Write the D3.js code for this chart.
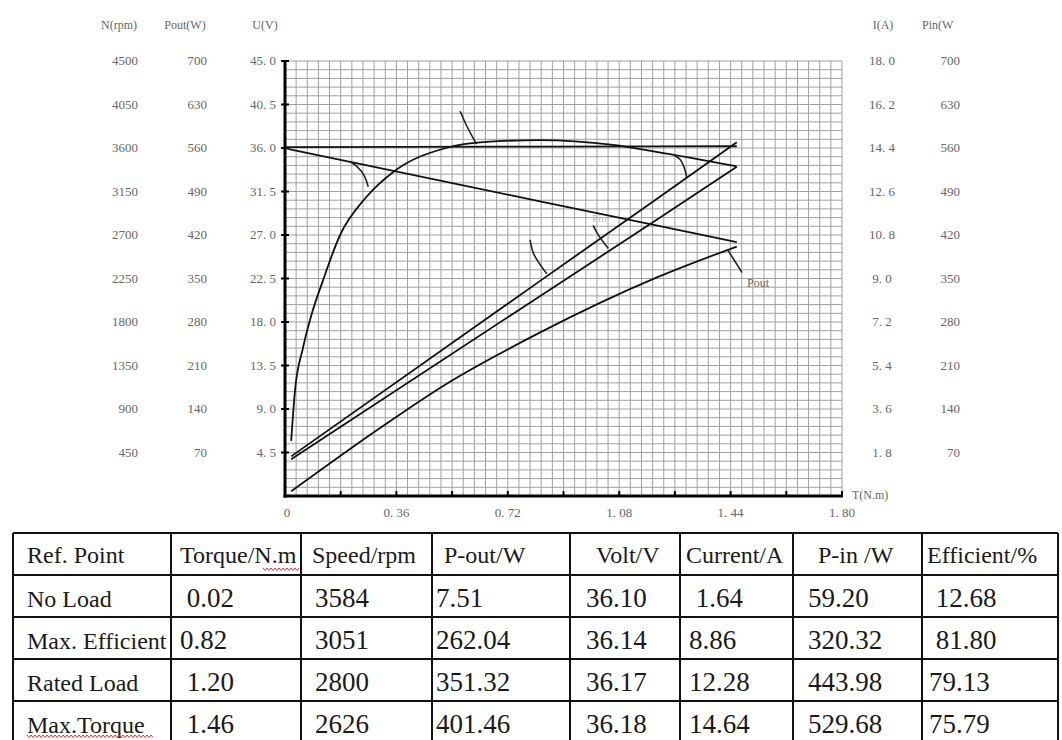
<!DOCTYPE html>
<html><head><meta charset="utf-8">
<script src="https://cdn.jsdelivr.net/npm/d3@7"></script>
<style>
html,body{margin:0;padding:0;background:#fff;}
svg{display:block;}
text{white-space:pre;}
</style></head>
<body>
<svg id="c" width="1062" height="740"></svg>
<script>
// ---------- data ----------
const uTicks = [4.5, 9, 13.5, 18, 22.5, 27, 31.5, 36, 40.5, 45];
const nLabels = ["450","900","1350","1800","2250","2700","3150","3600","4050","4500"];
const poutLabels = ["70","140","210","280","350","420","490","560","630","700"];
const uLabels = ["4. 5","9. 0","13. 5","18. 0","22. 5","27. 0","31. 5","36. 0","40. 5","45. 0"];
const iLabels = ["1. 8","3. 6","5. 4","7. 2","9. 0","10. 8","12. 6","14. 4","16. 2","18. 0"];
const pinLabels = ["70","140","210","280","350","420","490","560","630","700"];
const xTickVals = [0,0.18,0.36,0.54,0.72,0.9,1.08,1.26,1.44,1.62,1.8];
const xLabelVals = [0,0.36,0.72,1.08,1.44,1.8];
const xLabels = ["0","0. 36","0. 72","1. 08","1. 44","1. 80"];

// curves (torque N.m -> value)
const speedT = [0, 0.02, 0.82, 1.20, 1.46];
const speedN = [3600, 3584, 3051, 2800, 2626];
const voltT = [0, 0.02, 0.82, 1.20, 1.46];
const voltU = [36.1, 36.10, 36.14, 36.17, 36.18];
const currT = [0.02, 0.82, 1.20, 1.46];
const currI = [1.64, 8.86, 12.28, 14.64];
const pinT = [0.02, 0.82, 1.20, 1.46];
const pinW = [59.20, 320.32, 443.98, 529.68];
const poutT = [0.02, 0.30, 0.52, 0.82, 1.20, 1.46];
const poutW = [7.51, 107, 180, 262.04, 351.32, 401.46];
const effT = [0.02, 0.032, 0.058, 0.087, 0.12, 0.178, 0.26, 0.35, 0.52, 0.65, 0.82, 1.06, 1.20, 1.46];
const effP = [12.68, 24, 34, 42, 49, 60, 68.5, 74.5, 80, 81.4, 81.8, 80.7, 79.13, 75.79];

// leader marks (torque, value on U scale)
const leaders = [
  [[0.566,39.8],[0.587,38.3],[0.619,36.4]],
  [[0.21,34.6],[0.232,34.1],[0.269,32.0]],
  [[1.255,35.3],[1.277,34.8],[1.298,33.0]],
  [[0.996,28.0],[1.007,27.3],[1.045,25.6]],
  [[0.792,26.5],[0.803,25.1],[0.846,23.0]],
  [[1.432,25.4],[1.477,23.1]]
];

// table
const headers = ["Ref. Point","Torque/N.m","Speed/rpm","P-out/W","Volt/V","Current/A","P-in /W","Efficient/%"];
const refPoints = ["No Load","Max. Efficient","Rated Load","Max.Torque"];
const torqueCol = [" 0.02","0.82"," 1.20"," 1.46"];
const speedCol = ["3584","3051","2800","2626"];
const poutCol = ["7.51","262.04","351.32","401.46"];
const voltCol = ["36.10","36.14","36.17","36.18"];
const currentCol = [" 1.64","8.86","12.28","14.64"];
const pinCol = ["59.20","320.32","443.98","529.68"];
const effCol = [" 12.68"," 81.80","79.13","75.79"];

// ---------- drawing ----------
const svg = d3.select("#c");
const x = d3.scaleLinear([0,1.8],[285,842]);
const yU = d3.scaleLinear([0,45],[496,61]);
const yN = d3.scaleLinear([0,4500],[496,61]);
const yP = d3.scaleLinear([0,700],[496,61]);
const yI = d3.scaleLinear([0,18],[496,61]);
const yE = d3.scaleLinear([0,100],[496,61]);

// grid 50 x 50
const g = svg.append("g");
const gx = d3.range(0,51).map(i=>i*1.8/50);
const gy = d3.range(0,51).map(i=>i*45/50);
g.selectAll("line.v").data(gx).join("line")
  .attr("x1",d=>x(d)).attr("x2",d=>x(d)).attr("y1",yU(45)).attr("y2",yU(0))
  .attr("stroke","#a0a0a0").attr("stroke-width",1);
g.selectAll("line.h").data(gy).join("line")
  .attr("x1",x(0)).attr("x2",x(1.8)).attr("y1",d=>yU(d)).attr("y2",d=>yU(d))
  .attr("stroke","#a0a0a0").attr("stroke-width",1);

// axes
const ax = svg.append("g");
ax.append("line").attr("x1",x(0)).attr("x2",x(0)).attr("y1",yU(45)-1).attr("y2",yU(0)+1.5)
  .attr("stroke","#000").attr("stroke-width",3);
ax.append("line").attr("x1",x(0)-1.5).attr("x2",x(1.8)+1).attr("y1",yU(0)).attr("y2",yU(0))
  .attr("stroke","#000").attr("stroke-width",3);
ax.selectAll("line.yt").data(uTicks).join("line")
  .attr("x1",x(0)-4).attr("x2",x(0)+4).attr("y1",d=>yU(d)).attr("y2",d=>yU(d))
  .attr("stroke","#000").attr("stroke-width",2);
ax.selectAll("line.xt").data(xTickVals.slice(1)).join("line")
  .attr("x1",d=>x(d)).attr("x2",d=>x(d)).attr("y1",yU(0)).attr("y2",yU(0)-5)
  .attr("stroke","#000").attr("stroke-width",2);

const lblFont = "'Liberation Serif', 'Times New Roman', serif";
const lblCol = "#666";
function lbl(txt,xx,yy,anchor,size){
  svg.append("text").attr("x",xx).attr("y",yy).attr("text-anchor",anchor||"start")
    .attr("font-family",lblFont).attr("font-size",size||13).attr("fill",lblCol).text(txt);
}
// axis headers
lbl("N(rpm)",119,29,"middle",12);
lbl("Pout(W)",185,29,"middle",12);
lbl("U(V)",265,29,"middle",12);
lbl("I(A)",883,29,"middle",12);
lbl("Pin(W",922,29,"start",12);
uTicks.forEach((u,k)=>{
  const yy = yU(u)+4;
  lbl(nLabels[k],138,yy,"end");
  lbl(poutLabels[k],207,yy,"end");
  lbl(uLabels[k],276,yy,"end");
  lbl(iLabels[k],882,yy,"middle");
  lbl(pinLabels[k],960,yy,"end");
});
xLabelVals.forEach((v,k)=>lbl(xLabels[k],x(v)+(k===0?2:0),517,"middle"));
lbl("T(N.m)",852,499,"start",12);

// curves
const cg = svg.append("g").attr("fill","none").attr("stroke","#111").attr("stroke-width",1.8);
function curve(ts,vs,ys,curveType){
  const pts = ts.map((t,k)=>[x(t),ys(vs[k])]);
  cg.append("path").attr("d",d3.line().curve(curveType||d3.curveLinear)(pts));
}
curve(voltT,voltU,yU);
curve(speedT,speedN,yN);
curve(currT,currI,yI);
curve(pinT,pinW,yP);
curve(poutT,poutW,yP,d3.curveMonotoneX);
curve(effT,effP,yE,d3.curveMonotoneX);

// leader marks
const lg = svg.append("g").attr("fill","none").attr("stroke","#222").attr("stroke-width",1.6);
leaders.forEach(L=>{
  lg.append("path").attr("d",d3.line().curve(d3.curveMonotoneY)(L.map(p=>[x(p[0]),yU(p[1])])));
});
lbl("Pout",747,287,"start",12);
svg.append("text").attr("x",592).attr("y",222).attr("font-family",lblFont).attr("font-size",11)
  .attr("fill","#bbb").text("Pin");

// ---------- table ----------
const colX = [13,171,301,432,570,680,793,922,1058];
const rowY = [533,575,617,659,701,743];
const headerX = [27,180,312,444,596,686,818,927];
const valueX = [27,180,315,436,586,689,808,929];
const tg = svg.append("g");
const defs = svg.append("defs");
colX.slice(0,-1).forEach((cx,k)=>{
  defs.append("clipPath").attr("id","cc"+k).append("rect")
    .attr("x",cx).attr("y",rowY[0]).attr("width",colX[k+1]-cx).attr("height",rowY[5]-rowY[0]);
});
const tFont = "'Liberation Serif', 'Times New Roman', serif";
headers.forEach((h,k)=>{
  tg.append("text").attr("x",headerX[k]).attr("y",rowY[0]+30).attr("font-family",tFont)
    .attr("font-size",24).attr("fill","#1a1a1a").attr("clip-path","url(#cc"+k+")").text(h);
});
const cols = [refPoints,torqueCol,speedCol,poutCol,voltCol,currentCol,pinCol,effCol];
cols.forEach((col,k)=>{
  col.forEach((v,r)=>{
    tg.append("text").attr("x",valueX[k]).attr("y",rowY[r+1]+32).attr("font-family",tFont)
      .attr("font-size",k===0?24:27).attr("fill","#1a1a1a")
      .attr("clip-path","url(#cc"+k+")").text(v);
  });
});
tg.selectAll("line.r").data(rowY).join("line")
  .attr("x1",colX[0]).attr("x2",colX[8]).attr("y1",d=>d).attr("y2",d=>d)
  .attr("stroke","#111").attr("stroke-width",2);
tg.selectAll("line.c").data(colX).join("line")
  .attr("x1",d=>d).attr("x2",d=>d).attr("y1",rowY[0]).attr("y2",rowY[5])
  .attr("stroke","#111").attr("stroke-width",2);

// spell-check squiggles
function squiggle(x0,x1,yy){
  const pts = d3.range(x0,x1+0.1,2).map((xx,i)=>[xx, yy+(i%2?1.5:-1)]);
  tg.append("path").attr("d",d3.line()(pts)).attr("fill","none").attr("stroke","#d33").attr("stroke-width",1);
}
squiggle(263,300,569);
squiggle(27,153,736);
</script>
</body></html>
